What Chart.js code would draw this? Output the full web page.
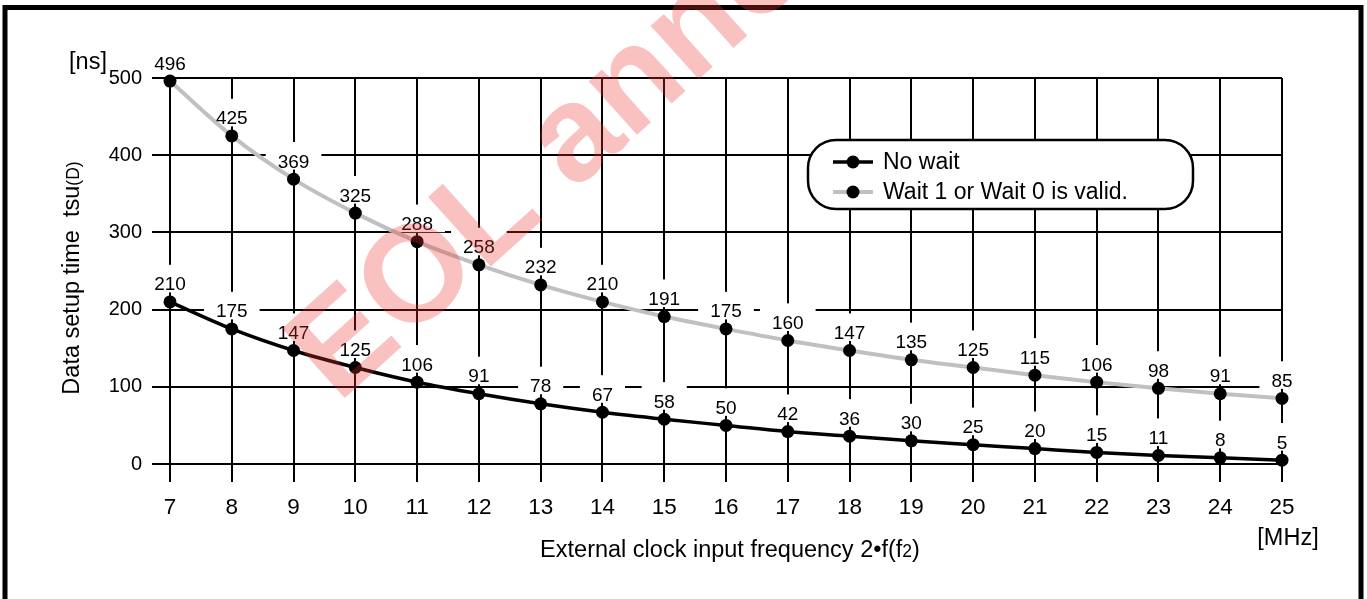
<!DOCTYPE html>
<html>
<head>
<meta charset="utf-8">
<script src="https://cdn.jsdelivr.net/npm/chart.js@4/dist/chart.umd.min.js"></script>
<style>
html,body{margin:0;padding:0;background:#fff;}
#wrap{width:1367px;height:599px;position:relative;overflow:hidden;}
canvas{display:block;}
</style>
</head>
<body>
<div id="wrap"><canvas id="c" width="1367" height="599"></canvas></div>
<script>
// ---- data ----
const frequencies = [7, 8, 9, 10, 11, 12, 13, 14, 15, 16, 17, 18, 19, 20, 21, 22, 23, 24, 25];
const noWait      = [210, 175, 147, 125, 106, 91, 78, 67, 58, 50, 42, 36, 30, 25, 20, 15, 11, 8, 5];
const waitValid   = [496, 425, 369, 325, 288, 258, 232, 210, 191, 175, 160, 147, 135, 125, 115, 106, 98, 91, 85];
const yTicks      = [0, 100, 200, 300, 400, 500];
const seriesNames = ['No wait', 'Wait 1 or Wait 0 is valid.'];
const seriesColors = ['#000000', '#c0c0c0'];
const yUnit = '[ns]';
const xUnit = '[MHz]';
const yTitle = ['Data setup time  tsu', '(D)'];
const xTitle = ['External clock input frequency 2\u2022f(f', '2', ')'];
const watermark = 'EOL announced';

const FONT = '"Liberation Sans", Arial, Helvetica, sans-serif';
const LABEL_SIZE = 19;

function labelItems(chart) {
  const items = [];
  chart.data.datasets.forEach((ds, di) => {
    const meta = chart.getDatasetMeta(di);
    meta.data.forEach((pt, i) => {
      items.push({x: pt.x, y: pt.y, text: String(ds.data[i])});
    });
  });
  return items;
}

const customPlugin = {
  id: 'custom',
  beforeDraw(chart) {
    const ctx = chart.ctx;
    ctx.save();
    ctx.fillStyle = '#fff';
    ctx.fillRect(0, 0, chart.width, chart.height);
    ctx.restore();
  },
  beforeDatasetsDraw(chart) {
    const ctx = chart.ctx;
    ctx.save();
    ctx.font = LABEL_SIZE + 'px ' + FONT;
    ctx.fillStyle = '#fff';
    const cap = LABEL_SIZE * 0.716;
    labelItems(chart).forEach(it => {
      const w = ctx.measureText(it.text).width;
      const base = it.y - 11.5;
      ctx.fillRect(it.x - w / 2 - 12, base - cap - 12, w + 24, cap + 14);
    });
    ctx.restore();
  },
  afterDatasetsDraw(chart) {
    const ctx = chart.ctx;
    ctx.save();
    // data labels
    ctx.font = LABEL_SIZE + 'px ' + FONT;
    ctx.fillStyle = '#000';
    ctx.textAlign = 'center';
    ctx.textBaseline = 'alphabetic';
    labelItems(chart).forEach(it => {
      ctx.fillText(it.text, it.x, it.y - 11.5);
    });

    // legend
    const lx = 808, ly = 140, lw = 385, lh = 69, r = 28;
    ctx.beginPath();
    ctx.moveTo(lx + r, ly);
    ctx.lineTo(lx + lw - r, ly);
    ctx.arcTo(lx + lw, ly, lx + lw, ly + r, r);
    ctx.lineTo(lx + lw, ly + lh - r);
    ctx.arcTo(lx + lw, ly + lh, lx + lw - r, ly + lh, r);
    ctx.lineTo(lx + r, ly + lh);
    ctx.arcTo(lx, ly + lh, lx, ly + lh - r, r);
    ctx.lineTo(lx, ly + r);
    ctx.arcTo(lx, ly, lx + r, ly, r);
    ctx.closePath();
    ctx.fillStyle = '#fff';
    ctx.fill();
    ctx.lineWidth = 2.5;
    ctx.strokeStyle = '#000';
    ctx.stroke();
    chart.data.datasets.forEach((ds, i) => {
      const cy = 162 + i * 30;
      ctx.beginPath();
      ctx.moveTo(833, cy);
      ctx.lineTo(873, cy);
      ctx.lineWidth = ds.borderWidth;
      ctx.strokeStyle = ds.borderColor;
      ctx.stroke();
      ctx.beginPath();
      ctx.arc(853, cy, 6.5, 0, Math.PI * 2);
      ctx.fillStyle = '#000';
      ctx.fill();
      ctx.font = '23px ' + FONT;
      ctx.textAlign = 'left';
      ctx.textBaseline = 'middle';
      ctx.fillText(ds.label, 883, cy + 1);
    });

    // unit labels
    ctx.font = '23.5px ' + FONT;
    ctx.textAlign = 'center';
    ctx.textBaseline = 'middle';
    ctx.fillStyle = '#000';
    ctx.fillText(yUnit, 88, 63);
    ctx.fillText(xUnit, 1288, 539);

    // x title with small subscript
    const big = '23.5px ' + FONT, small = '17.5px ' + FONT;
    ctx.textBaseline = 'alphabetic';
    ctx.textAlign = 'left';
    ctx.font = big; const w1 = ctx.measureText(xTitle[0]).width;
    ctx.font = small; const w2 = ctx.measureText(xTitle[1]).width;
    ctx.font = big; const w3 = ctx.measureText(xTitle[2]).width;
    let x0 = 730 - (w1 + w2 + w3) / 2;
    const by = 557;
    ctx.font = big; ctx.fillText(xTitle[0], x0, by);
    ctx.font = small; ctx.fillText(xTitle[1], x0 + w1, by);
    ctx.font = big; ctx.fillText(xTitle[2], x0 + w1 + w2, by);

    // y title rotated
    ctx.save();
    ctx.translate(79, 278);
    ctx.rotate(-Math.PI / 2);
    ctx.font = big; const t1 = ctx.measureText(yTitle[0]).width;
    ctx.font = small; const t2 = ctx.measureText(yTitle[1]).width;
    const sx = -(t1 + t2) / 2;
    ctx.font = big; ctx.fillText(yTitle[0], sx, 0);
    ctx.font = small; ctx.fillText(yTitle[1], sx + t1, 0);
    ctx.restore();

    // outer frame
    ctx.lineWidth = 5;
    ctx.strokeStyle = '#000';
    ctx.strokeRect(5, 7.5, 1356, 620);

    // watermark
    ctx.save();
    ctx.translate(338, 404);
    ctx.rotate(-42 * Math.PI / 180);
    ctx.font = 'bold 136px ' + FONT;
    ctx.fillStyle = 'rgba(240,50,50,0.3)';
    ctx.textAlign = 'left';
    ctx.textBaseline = 'alphabetic';
    ctx.fillText(watermark, 0, 0);
    ctx.restore();

    ctx.restore();
  }
};

new Chart(document.getElementById('c'), {
  type: 'line',
  data: {
    labels: frequencies.map(String),
    datasets: [
      {
        label: seriesNames[0], data: noWait,
        borderColor: seriesColors[0], borderWidth: 3.5,
        pointRadius: 6.5, pointBackgroundColor: '#000', pointBorderColor: '#000', pointBorderWidth: 0,
        cubicInterpolationMode: 'monotone', clip: false, fill: false
      },
      {
        label: seriesNames[1], data: waitValid,
        borderColor: seriesColors[1], borderWidth: 4,
        pointRadius: 6.5, pointBackgroundColor: '#000', pointBorderColor: '#000', pointBorderWidth: 0,
        cubicInterpolationMode: 'monotone', clip: false, fill: false
      }
    ]
  },
  options: {
    responsive: false,
    animation: false,
    devicePixelRatio: 1,
    layout: {padding: {left: 0, right: 85, top: 78, bottom: 0}},
    plugins: {legend: {display: false}, tooltip: {enabled: false}},
    scales: {
      x: {
        type: 'category',
        offset: false,
        grid: {color: '#000', lineWidth: 2, tickLength: 18, offset: false},
        border: {display: false},
        ticks: {color: '#000', font: {family: FONT, size: 22.5}, padding: 12, maxRotation: 0, autoSkip: false},
        afterFit(s) { s.height = 135; }
      },
      y: {
        min: 0, max: 500,
        afterBuildTicks(s) { s.ticks = yTicks.map(v => ({value: v})); },
        grid: {color: '#000', lineWidth: 2, tickLength: 18},
        border: {display: false},
        ticks: {color: '#000', font: {family: FONT, size: 20}, padding: 10},
        afterFit(s) { s.width = 170; }
      }
    }
  },
  plugins: [customPlugin]
});
</script>
</body>
</html>
